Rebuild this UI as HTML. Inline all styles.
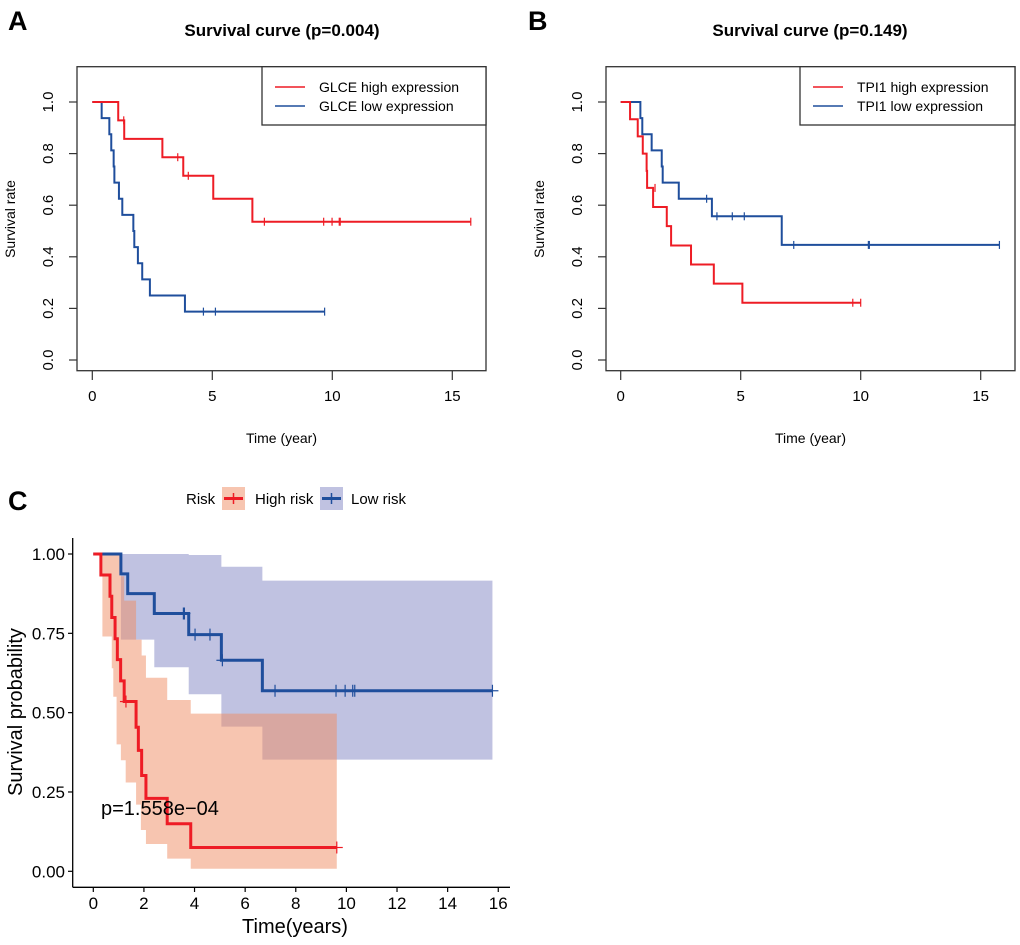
<!DOCTYPE html>
<html><head><meta charset="utf-8"><style>
body{margin:0;background:#fff;}
svg text{font-family:"Liberation Sans",Arial,sans-serif;}
</style></head><body>
<svg id="fig" width="1020" height="940" viewBox="0 0 1020 940" xmlns="http://www.w3.org/2000/svg"></svg>
<script>
// Panel A data
const aHighT=[1.08,1.33,2.92,3.79,5.04,6.67];
const aHighS=[0.929,0.857,0.786,0.714,0.625,0.536];
const aHighCens=[[1.31,0.929],[3.56,0.786],[4.0,0.714],[7.17,0.536],[9.64,0.536],[9.99,0.536],[10.29,0.536],[10.33,0.536],[15.77,0.536]];
const aHighEnd=15.77;
const aLowT=[0.39,0.71,0.79,0.89,0.92,1.11,1.25,1.71,1.75,1.9,2.08,2.4,3.86];
const aLowS=[0.9375,0.875,0.8125,0.75,0.6875,0.625,0.5625,0.5,0.4375,0.375,0.3125,0.25,0.1875];
const aLowCens=[[4.63,0.1875],[5.13,0.1875],[9.68,0.1875]];
const aLowEnd=9.68;
// Panel B data
const bLowT=[0.82,0.9,1.29,1.71,1.75,2.42,3.8,6.71];
const bLowS=[0.9375,0.875,0.8125,0.75,0.6875,0.625,0.557,0.446];
const bLowCens=[[3.58,0.625],[4.01,0.557],[4.65,0.557],[5.15,0.557],[7.21,0.446],[10.32,0.446],[10.36,0.446],[15.78,0.446]];
const bLowEnd=15.78;
const bHighT=[0.39,0.71,0.92,1.08,1.1,1.35,1.92,2.1,2.93,3.88,5.07];
const bHighS=[0.933,0.867,0.8,0.733,0.667,0.593,0.519,0.444,0.370,0.296,0.222];
const bHighCens=[[1.43,0.667],[9.67,0.222],[10.0,0.222]];
const bHighEnd=10.0;
// Panel C data
const cLowT=[1.09,1.36,2.41,3.77,5.06,6.68];
const cLowS=[0.9375,0.875,0.8125,0.746,0.665,0.569];
const cLowCens=[[3.56,0.8125],[3.6,0.8125],[4.02,0.746],[4.61,0.746],[5.1,0.665],[7.18,0.569],[9.59,0.569],[9.95,0.569],[10.25,0.569],[10.33,0.569],[15.77,0.569]];
const cLowEnd=15.77;
const cLowUpT=[3.77,5.06,6.68];
const cLowUpS=[0.997,0.96,0.916];
const cLowLoT=[1.09,2.41,3.77,5.06,6.68];
const cLowLoS=[0.73,0.643,0.558,0.456,0.352];
const cHighT=[0.30,0.66,0.73,0.86,0.95,1.08,1.22,1.69,1.78,1.91,2.08,2.92,3.85];
const cHighS=[0.934,0.867,0.8,0.733,0.667,0.6,0.535,0.454,0.381,0.302,0.23,0.15,0.075];
const cHighCens=[[1.29,0.535],[9.62,0.075]];
const cHighEnd=9.62;
const cHighUpT=[1.08,1.22,1.69,1.91,2.08,2.92,3.85];
const cHighUpS=[0.93,0.853,0.73,0.68,0.61,0.54,0.497];
const cHighLoT=[0.36,0.73,0.79,0.92,1.09,1.28,1.69,1.88,2.08,2.92,3.85];
const cHighLoS=[0.74,0.64,0.55,0.40,0.35,0.28,0.21,0.13,0.086,0.04,0.008];
const abXTicks=[0,5,10,15];
const abYTicks=[0,0.2,0.4,0.6,0.8,1.0];
const cXTicks=[0,2,4,6,8,10,12,14,16];
const cYTicks=[0,0.25,0.5,0.75,1.0];
const cYLabels=['0.00','0.25','0.50','0.75','1.00'];

const NS='http://www.w3.org/2000/svg';
const svg=document.getElementById('fig');
function mk(tag,attrs,parent,text){const e=document.createElementNS(NS,tag);for(const k in attrs)e.setAttribute(k,attrs[k]);if(text!==undefined)e.textContent=text;(parent||svg).appendChild(e);return e;}
function stepPts(T,S,end,sx,sy){let p=[[sx(0),sy(1)]];let cur=1;for(let i=0;i<T.length;i++){p.push([sx(T[i]),sy(cur)]);cur=S[i];p.push([sx(T[i]),sy(cur)]);}p.push([sx(end),sy(cur)]);return p.map(a=>a.join(',')).join(' ');}
function bandPts(upT,upS,loT,loS,start,end,sx,sy){let up=[];let cur=1;up.push([sx(start),sy(1)]);for(let i=0;i<upT.length;i++){up.push([sx(upT[i]),sy(cur)]);cur=upS[i];up.push([sx(upT[i]),sy(cur)]);}up.push([sx(end),sy(cur)]);
let lo=[];cur=1;lo.push([sx(start),sy(1)]);for(let i=0;i<loT.length;i++){lo.push([sx(loT[i]),sy(cur)]);cur=loS[i];lo.push([sx(loT[i]),sy(cur)]);}lo.push([sx(end),sy(cur)]);
return up.concat(lo.reverse()).map(a=>a.join(',')).join(' ');}

function curve(g,T,S,end,cens,sx,sy,color,w,name,tick){
  const pl=mk('polyline',{points:stepPts(T,S,end,sx,sy),fill:'none',stroke:color,'stroke-width':w},g);
  
  
  cens.forEach(c=>{const x=sx(c[0]),y=sy(c[1]);
    const v=mk('line',{x1:x,x2:x,y1:y-tick,y2:y+tick,stroke:color,'stroke-width':1.2},g);
    
    
    if(tick>5){const h=mk('line',{x1:x-tick,x2:x+tick,y1:y,y2:y,stroke:color,'stroke-width':1.2},g);}
  });
}

function basePanel(o){
  const g=mk('g',{},svg);
  const sx=t=>o.x0+t*o.px, sy=s=>o.y0-s*o.py;
  mk('text',{x:o.letterX,y:o.labelY,'font-size':27,'font-weight':'bold'},g,o.letter);
  const ti=mk('text',{x:o.titleX,y:36,'font-size':17,'font-weight':'bold','text-anchor':'middle'},g,o.title);
  const box=mk('rect',{x:o.bx,y:66.7,width:o.bw,height:304,fill:'none',stroke:'#333','stroke-width':1.3},g);
  abXTicks.forEach(t=>{mk('line',{x1:sx(t),x2:sx(t),y1:371,y2:380,stroke:'#333','stroke-width':1.2},g);
    const tl=mk('text',{x:sx(t),y:401,'font-size':15,'text-anchor':'middle'},g,String(t));});
  abYTicks.forEach(s=>{mk('line',{x1:o.bx,x2:o.bx-8,y1:sy(s),y2:sy(s),stroke:'#333','stroke-width':1.2},g);
    const lx=o.bx-24;
    const tl=mk('text',{x:lx,y:sy(s),'font-size':15,'text-anchor':'middle',transform:`rotate(-90 ${lx} ${sy(s)})`},g,s.toFixed(1));});
  const xl=mk('text',{x:o.bx+o.bw/2,y:443,'font-size':14,'text-anchor':'middle'},g,'Time (year)');
  const yl=mk('text',{x:o.bx-62,y:219,'font-size':14,'text-anchor':'middle',transform:`rotate(-90 ${o.bx-62} 219)`},g,'Survival rate');
  const lg=mk('g',{},g);
  mk('rect',{x:o.lx,y:66.7,width:o.bx+o.bw-o.lx,height:58.3,fill:'#fff',stroke:'#333','stroke-width':1.3},lg);
  o.leg.forEach((L,i)=>{const y=87+i*19;
    const e=mk('g',{},lg);
    mk('line',{x1:o.lx+13,x2:o.lx+43,y1:y,y2:y,stroke:L[1],'stroke-width':1.6},e);
    mk('text',{x:o.lx+57,y:y+5,'font-size':14},e,L[0]);});
  return {g,sx,sy};
}

let P=basePanel({name:'panel-a',letter:'A',letterX:8,labelY:30,title:'Survival curve (p=0.004)',titleX:282,x0:92.3,px:24,y0:360,py:258,bx:77,bw:409,lx:262,leg:[['GLCE high expression','#ee1c25'],['GLCE low expression','#1f4e9c']]});
curve(P.g,aLowT,aLowS,aLowEnd,aLowCens,P.sx,P.sy,'#1f4e9c',2,'glce-low',4);
curve(P.g,aHighT,aHighS,aHighEnd,aHighCens,P.sx,P.sy,'#ee1c25',2,'glce-high',4);
P=basePanel({name:'panel-b',letter:'B',letterX:528,labelY:30,title:'Survival curve (p=0.149)',titleX:810,x0:620.7,px:24,y0:360,py:258,bx:606,bw:409,lx:800,leg:[['TPI1 high expression','#ee1c25'],['TPI1 low expression','#1f4e9c']]});
curve(P.g,bLowT,bLowS,bLowEnd,bLowCens,P.sx,P.sy,'#1f4e9c',2,'tpi1-low',4);
curve(P.g,bHighT,bHighS,bHighEnd,bHighCens,P.sx,P.sy,'#ee1c25',2,'tpi1-high',4);

(function(){
  const g=mk('g',{},svg);
  const x0=93.3,px=25.31,y0=871.3,py=317.3;
  const sx=t=>x0+t*px, sy=s=>y0-s*py;
  mk('text',{x:8,y:510,'font-size':27,'font-weight':'bold'},g,'C');
  const b1=mk('polygon',{points:bandPts(cLowUpT,cLowUpS,cLowLoT,cLowLoS,1.09,cLowEnd,sx,sy),fill:'#8286c4','fill-opacity':0.5},g);
  
  const b2=mk('polygon',{points:bandPts(cHighUpT,cHighUpS,cHighLoT,cHighLoS,0.3,cHighEnd,sx,sy),fill:'#f08b62','fill-opacity':0.5},g);
  
  curve(g,cLowT,cLowS,cLowEnd,cLowCens,sx,sy,'#1f4e9c',3,'low-risk',6);
  curve(g,cHighT,cHighS,cHighEnd,cHighCens,sx,sy,'#ee1c25',3,'high-risk',6);
  mk('line',{x1:72.7,x2:72.7,y1:538,y2:887.3,stroke:'#000','stroke-width':1.3},g);
  mk('line',{x1:72.7,x2:510,y1:887.3,y2:887.3,stroke:'#000','stroke-width':1.3},g);
  cXTicks.forEach(t=>{mk('line',{x1:sx(t),x2:sx(t),y1:887.3,y2:892,stroke:'#000','stroke-width':1.2},g);
    mk('text',{x:sx(t),y:909,'font-size':17,'text-anchor':'middle'},g,String(t));});
  cYTicks.forEach((s,i)=>{mk('line',{x1:68,x2:72.7,y1:sy(s),y2:sy(s),stroke:'#000','stroke-width':1.2},g);
    mk('text',{x:65,y:sy(s)+6,'font-size':17,'text-anchor':'end'},g,cYLabels[i]);});
  mk('text',{x:295,y:933,'font-size':20,'text-anchor':'middle'},g,'Time(years)');
  mk('text',{x:22,y:712,'font-size':20,'text-anchor':'middle',transform:'rotate(-90 22 712)'},g,'Survival probability');
  mk('text',{x:101,y:815,'font-size':20},g,'p=1.558e−04');
  const lg=mk('g',{},g);
  mk('text',{x:186,y:504,'font-size':15},lg,'Risk');
  [[222,'#f08b62','#ee1c25','High risk',255],[320,'#8286c4','#1f4e9c','Low risk',351]].forEach(L=>{
    const e=mk('g',{},lg);
    mk('rect',{x:L[0],y:487,width:23,height:23,fill:L[1],'fill-opacity':0.5},e);
    mk('line',{x1:L[0]+2,x2:L[0]+21,y1:498.5,y2:498.5,stroke:L[2],'stroke-width':3},e);
    mk('line',{x1:L[0]+11.5,x2:L[0]+11.5,y1:493,y2:504,stroke:L[2],'stroke-width':1.5},e);
    mk('text',{x:L[4],y:504,'font-size':15},e,L[3]);});
})();
</script>
</body></html>
